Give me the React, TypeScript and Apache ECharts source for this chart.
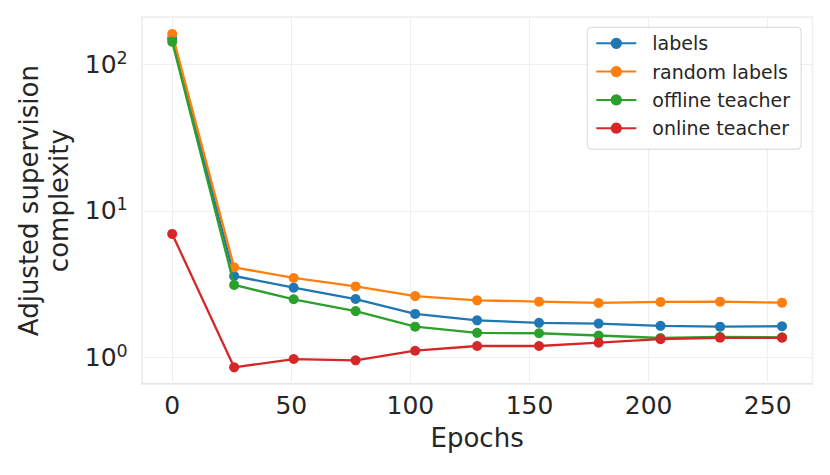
import React, { useEffect, useRef } from "react";
import * as echarts from "echarts";

const epochs = [0, 26, 51, 77, 102, 128, 154, 179, 205, 230, 256];
const seriesNames = ["labels", "random labels", "offline teacher", "online teacher"];
const labelsVals = [150, 3.59, 2.99, 2.5, 1.98, 1.79, 1.72, 1.7, 1.64, 1.62, 1.63];
const randomLabelsVals = [161, 4.11, 3.48, 3.05, 2.62, 2.45, 2.4, 2.35, 2.39, 2.4, 2.36];
const offlineTeacherVals = [142.6, 3.12, 2.49, 2.07, 1.62, 1.47, 1.46, 1.41, 1.355, 1.38, 1.37];
const onlineTeacherVals = [6.95, 0.855, 0.974, 0.954, 1.11, 1.195, 1.195, 1.26, 1.33, 1.36, 1.36];
const colors = ["#1f77b4", "#ff7f0e", "#2ca02c", "#d62728"];

const FONT = "DejaVu Sans";
const TEXT = "#262626";

export default function App() {
  const ref = useRef<HTMLDivElement>(null);
  useEffect(() => {
    document.body.style.margin = "0";
    const chart = echarts.init(ref.current!, null, { renderer: "svg" });
    const allVals = [labelsVals, randomLabelsVals, offlineTeacherVals, onlineTeacherVals];
    const series = allVals.map((vals, i) => ({
      name: seriesNames[i],
      type: "line",
      data: epochs.map((e, j) => [e, vals[j]]),
      symbol: "circle",
      symbolSize: 10,
      showSymbol: true,
      itemStyle: { color: colors[i] },
      lineStyle: { color: colors[i], width: 2.3 },
      z: 2 + i,
    }));
    chart.setOption({
      animation: false,
      textStyle: { fontFamily: FONT, color: TEXT },
      grid: {
        left: 141.7,
        top: 17.3,
        right: 17.5,
        bottom: 91,
        show: true,
        borderColor: "#cccccc",
        borderWidth: 1.2,
        backgroundColor: "#ffffff",
      },
      legend: {
        orient: "vertical",
        left: 587.3,
        top: 27.3,
        padding: [5, 11, 10, 8],
        itemGap: 6.3,
        itemWidth: 40,
        itemHeight: 14,
        backgroundColor: "#ffffff",
        borderColor: "#d6d6d6",
        borderWidth: 1,
        borderRadius: 4,
        textStyle: {
          fontFamily: FONT,
          fontSize: 19,
          color: TEXT,
          lineHeight: 22,
          padding: [0, 0, 0, 11],
        },
        data: seriesNames,
      },
      xAxis: {
        type: "value",
        min: -12.8,
        max: 268.8,
        splitNumber: 5,
        name: "Epochs",
        nameLocation: "middle",
        nameGap: 41,
        nameTextStyle: { fontFamily: FONT, fontSize: 26, color: TEXT },
        axisLine: { show: false },
        axisTick: { show: false },
        axisLabel: {
          fontFamily: FONT,
          fontSize: 25,
          color: TEXT,
          margin: 9,
          showMinLabel: false,
          showMaxLabel: false,
        },
        splitLine: { show: true, lineStyle: { color: "#efefef", width: 1 } },
      },
      yAxis: {
        type: "log",
        logBase: 10,
        min: 0.658,
        max: 209,
        name: "Adjusted supervision\ncomplexity",
        nameLocation: "middle",
        nameRotate: 90,
        nameGap: 63,
        nameTextStyle: { fontFamily: FONT, fontSize: 26, color: TEXT, lineHeight: 30 },
        axisLine: { show: false },
        axisTick: { show: false },
        axisLabel: {
          margin: 14,
          showMinLabel: false,
          showMaxLabel: false,
          formatter: (v: number) => {
            const e = Math.round(Math.log10(v));
            return `{b|10}{s|${e}}`;
          },
          rich: {
            b: { fontFamily: FONT, fontSize: 25, lineHeight: 31, color: TEXT },
            s: { fontFamily: FONT, fontSize: 17.5, lineHeight: 18, color: TEXT, verticalAlign: "top" },
          },
        },
        splitLine: { show: true, lineStyle: { color: "#efefef", width: 1 } },
      },
      series,
    });
    return () => chart.dispose();
  }, []);
  return <div ref={ref} style={{ width: 830, height: 475 }} />;
}
